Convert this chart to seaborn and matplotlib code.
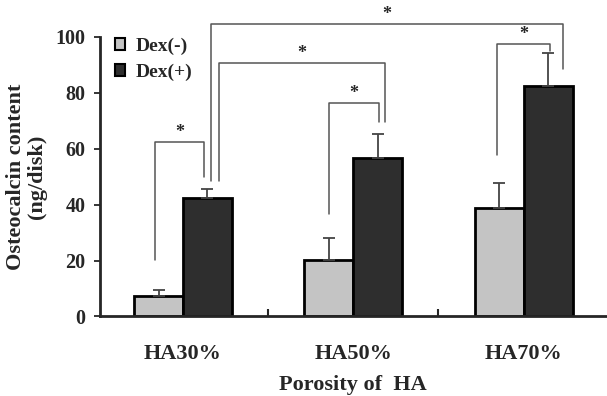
import matplotlib
matplotlib.use("Agg")
import matplotlib.pyplot as plt
import seaborn as sns
import pandas as pd
import numpy as np
from matplotlib.patches import Patch

categories = ["HA30%", "HA50%", "HA70%"]
series = ["Dex(-)", "Dex(+)"]
dex_minus = [7.3, 20.1, 38.6]
dex_plus = [42.2, 56.7, 82.4]
err_minus = [2.1, 7.8, 9.1]
err_plus = [3.2, 8.7, 11.6]
y_ticks = [0, 20, 40, 60, 80, 100]

# significance brackets: (x_left, y_left_bottom, x_right, y_right_bottom, y_top)
brackets = [
    (-0.165, 20.2, 0.124, 49.8, 62.3),
    (0.212, 48.4, 1.188, 69.5, 90.5),
    (0.163, 48.4, 2.232, 88.3, 104.5),
    (0.857, 36.6, 1.149, 69.4, 76.4),
    (1.845, 57.7, 2.153, 94.9, 97.4),
]

sns.set_style("ticks")
plt.rcParams["font.family"] = ["Liberation Serif", "DejaVu Serif"]
plt.rcParams["font.weight"] = "bold"

df = pd.DataFrame({
    "cat": categories * 2,
    "grp": [series[0]] * 3 + [series[1]] * 3,
    "val": dex_minus + dex_plus,
})

fig = plt.figure(figsize=(6.07, 3.96), dpi=100)
ax = fig.add_axes([0.164, 0.2008, 0.836, 0.7065])

colors = {"Dex(-)": "#c4c4c4", "Dex(+)": "#2e2e2e"}
sns.barplot(data=df, x="cat", y="val", hue="grp", order=categories,
            hue_order=series, palette=colors, errorbar=None, width=0.575,
            edgecolor="black", linewidth=2.0, ax=ax, legend=False, saturation=1)

for cont, errs in zip(ax.containers, [err_minus, err_plus]):
    xs = []
    ys = []
    for p in cont.patches:
        xs.append(p.get_x() + p.get_width() / 2)
        ys.append(p.get_height())
    ax.errorbar(xs, ys, yerr=[np.zeros(len(errs)), errs], fmt="none",
                ecolor="#444444", elinewidth=1.3, capsize=4.5, capthick=1.3, zorder=1)

for (xl, yl, xr, yr, yt) in brackets:
    ax.plot([xl, xl, xr, xr], [yl, yt, yt, yr], color="#555555", lw=1.1,
            clip_on=False, zorder=3)
    ax.text((xl + xr) / 2, yt + 3.4, "*", ha="center", va="center",
            fontsize=13, fontweight="bold", clip_on=False)

ax.set_xlim(-0.49, 2.49)
ax.set_ylim(0, 100)
ax.set_yticks(y_ticks)
ax.set_yticklabels([str(t) for t in y_ticks], fontsize=14.5, fontweight="bold")
ax.set_xticks([0, 1, 2])
ax.set_xticklabels(categories, fontsize=16, fontweight="bold")
ax.set_xticks([0.5, 1.5], minor=True)
ax.tick_params(axis="x", which="major", length=0, pad=20)
ax.tick_params(axis="x", which="minor", length=5, direction="in", width=1.5)
ax.tick_params(axis="y", which="major", length=4, width=1.3, direction="out", pad=6)

ax.set_xlabel("Porosity of  HA", fontsize=16, fontweight="bold", labelpad=8)
ax.set_ylabel("Osteocalcin content\n(ng/disk)", fontsize=16, fontweight="bold",
              labelpad=6, linespacing=1.1)

for side in ["top", "right"]:
    ax.spines[side].set_visible(False)
ax.spines["left"].set_linewidth(2)
ax.spines["bottom"].set_linewidth(2)

handles = [Patch(facecolor=colors[s], edgecolor="black", linewidth=1.5) for s in series]
ax.legend(handles, series, loc="upper left", bbox_to_anchor=(-0.005, 1.06),
          frameon=False, handlelength=0.55, handleheight=0.55, handletextpad=0.55,
          labelspacing=0.45, prop={"size": 14, "weight": "bold"})

fig.savefig("out.png", dpi=100)
